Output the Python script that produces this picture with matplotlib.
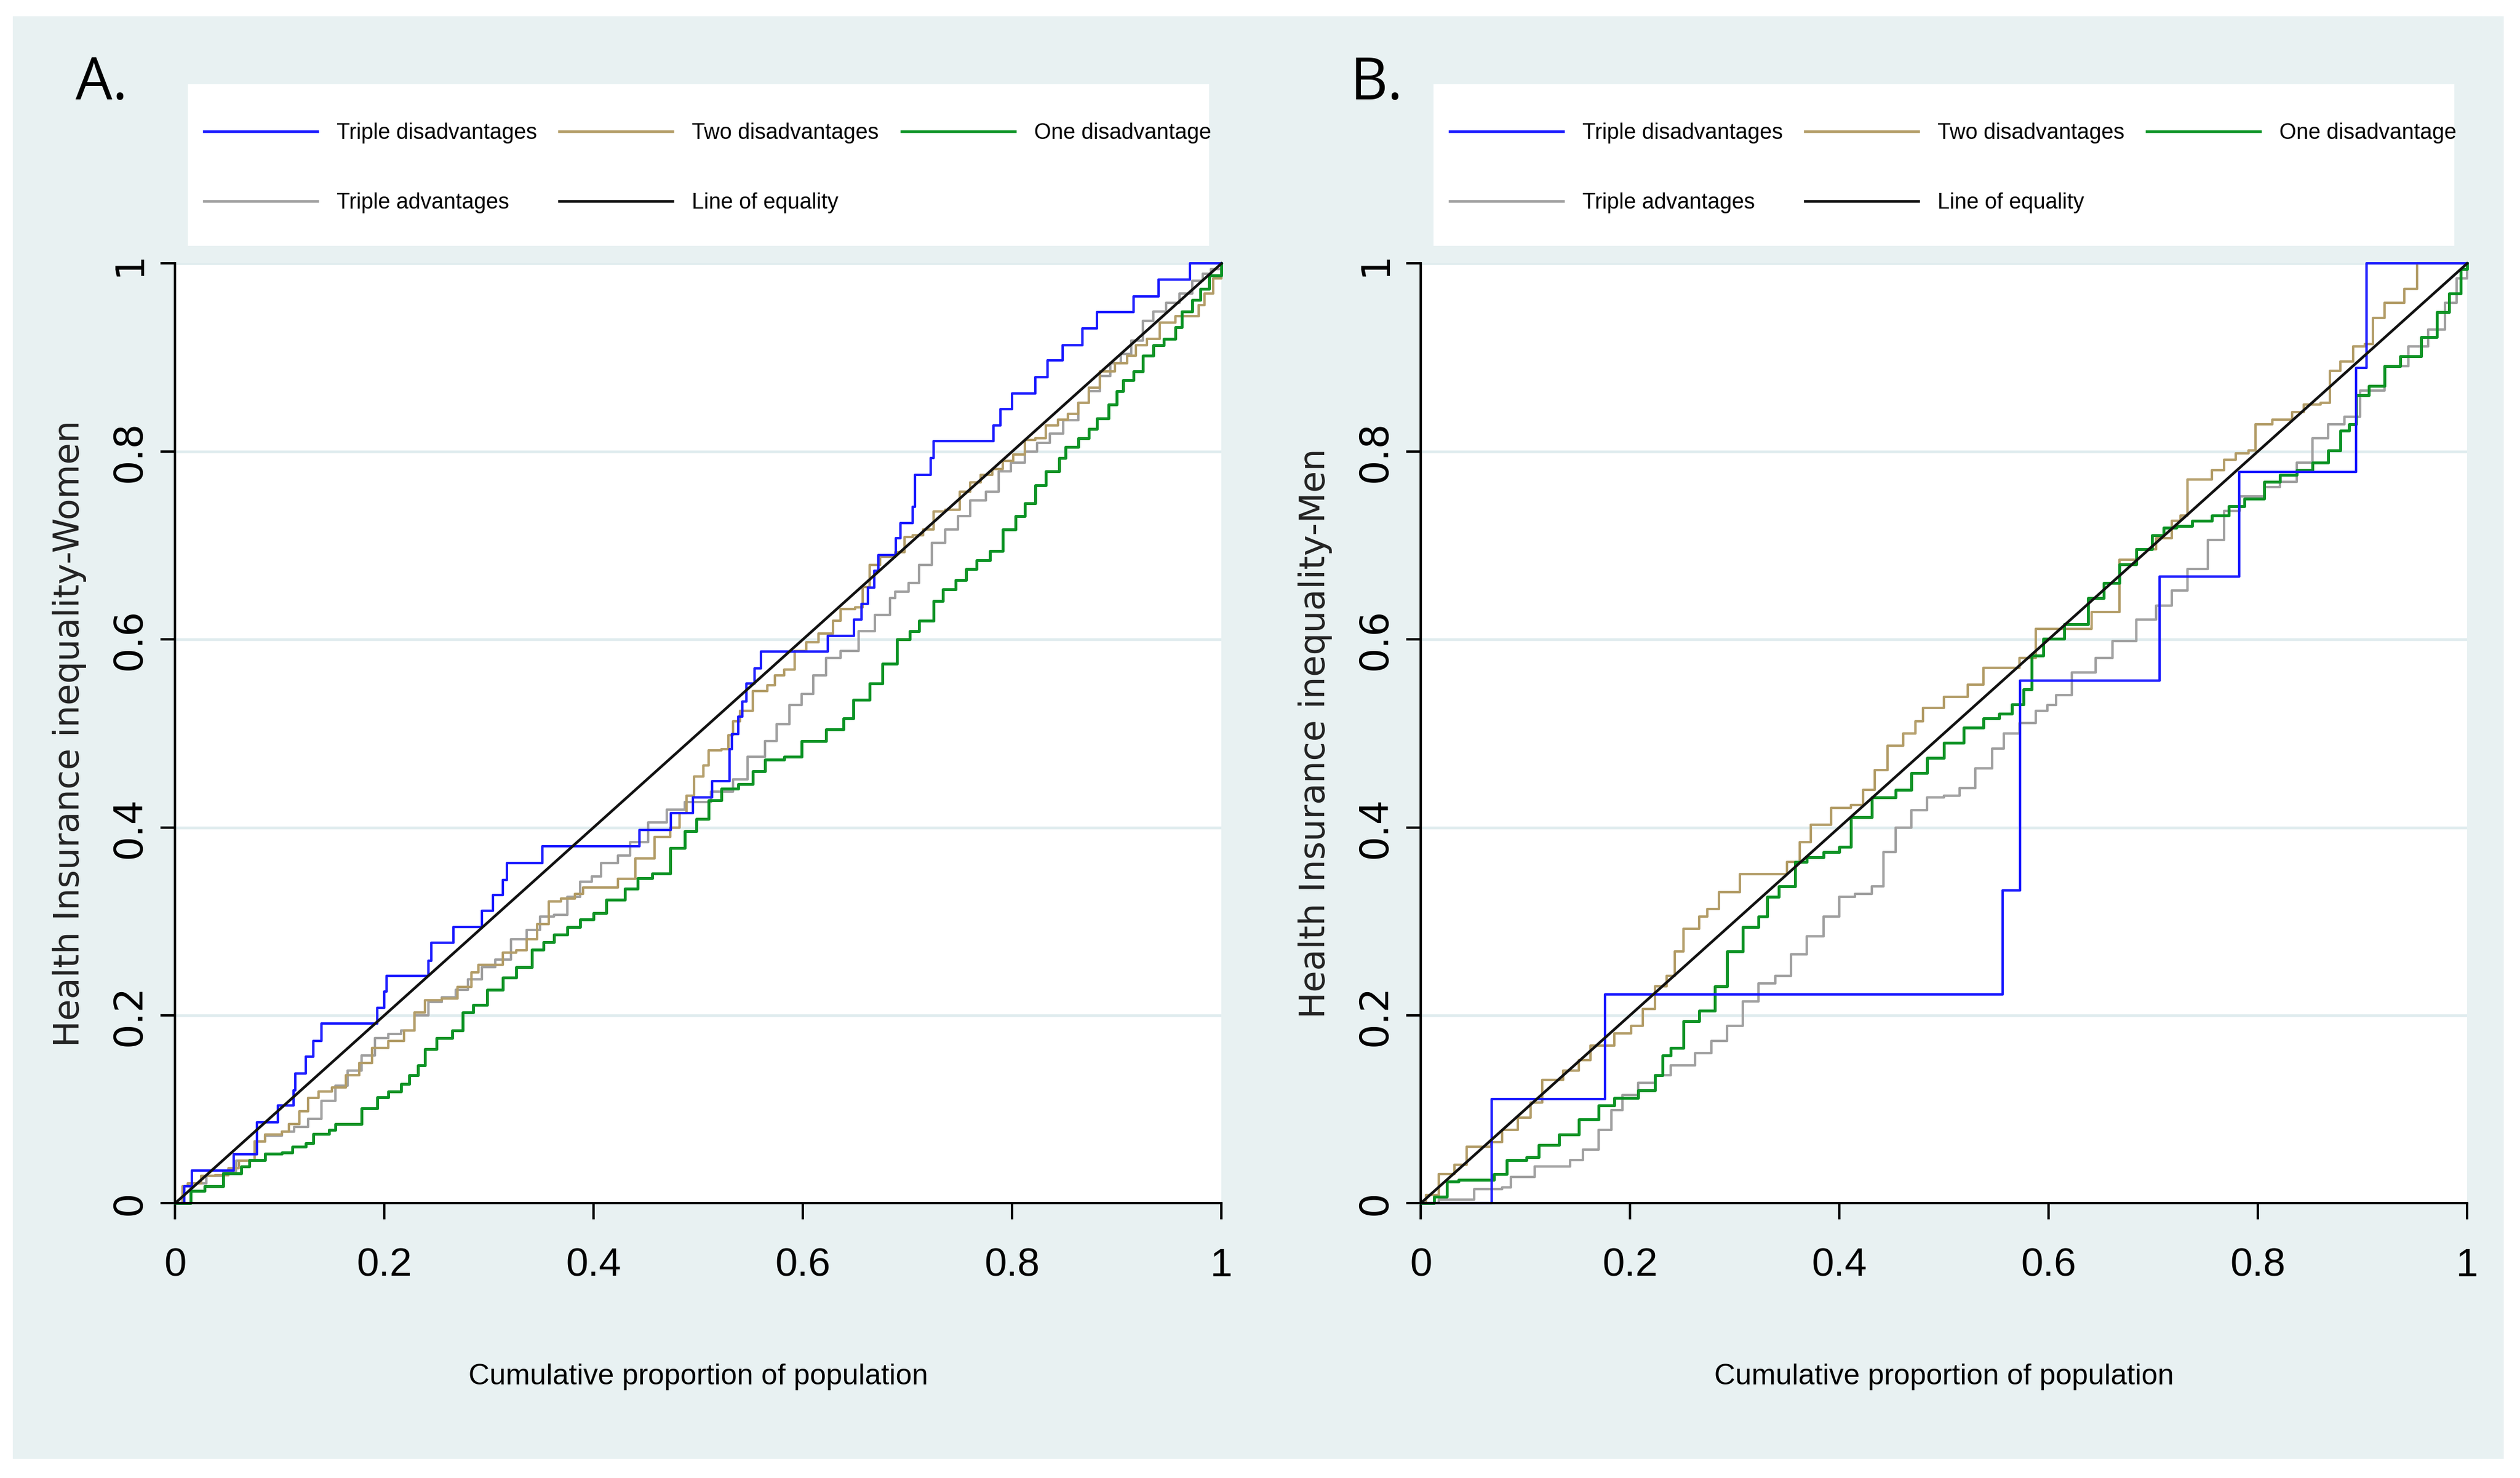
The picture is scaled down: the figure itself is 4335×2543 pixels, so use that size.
import matplotlib.pyplot as plt
from matplotlib.patches import Rectangle
from matplotlib.lines import Line2D

plt.rcParams['font.family'] = ['Liberation Sans', 'DejaVu Sans']

# --- Panel A (Women) ---
a_triple_dis_x = [0, 0.009, 0.016, 0.056, 0.078, 0.098, 0.113, 0.115, 0.125, 0.132, 0.140, 0.193,
                  0.200, 0.202, 0.242, 0.245, 0.266, 0.293, 0.304, 0.313, 0.317, 0.351, 0.444,
                  0.474, 0.495, 0.513, 0.530, 0.532, 0.538, 0.542, 0.546, 0.554, 0.560, 0.624,
                  0.649, 0.656, 0.662, 0.668, 0.672, 0.689, 0.693, 0.705, 0.707, 0.722, 0.725,
                  0.782, 0.789, 0.800, 0.822, 0.834, 0.848, 0.867, 0.881, 0.916, 0.940, 0.970,
                  1.0]
a_triple_dis_y = [0, 0.018, 0.035, 0.052, 0.086, 0.104, 0.120, 0.138, 0.156, 0.173, 0.191, 0.208,
                  0.225, 0.242, 0.258, 0.277, 0.294, 0.311, 0.328, 0.344, 0.362, 0.380, 0.397,
                  0.415, 0.432, 0.449, 0.483, 0.499, 0.518, 0.534, 0.553, 0.569, 0.587, 0.604,
                  0.621, 0.638, 0.655, 0.673, 0.690, 0.708, 0.724, 0.741, 0.775, 0.793, 0.811,
                  0.828, 0.845, 0.862, 0.879, 0.897, 0.913, 0.931, 0.948, 0.965, 0.983, 1.0,
                  1.0]

a_two_dis_x = [0, 0.007, 0.012, 0.025, 0.038, 0.051, 0.061, 0.076, 0.086, 0.102, 0.109, 0.119,
               0.127, 0.137, 0.150, 0.163, 0.176, 0.188, 0.204, 0.219, 0.229, 0.239, 0.255,
               0.270, 0.283, 0.290, 0.306, 0.313, 0.326, 0.336, 0.346, 0.357, 0.369, 0.382,
               0.390, 0.402, 0.423, 0.440, 0.458, 0.473, 0.482, 0.489, 0.496, 0.505, 0.510,
               0.522, 0.529, 0.533, 0.540, 0.552, 0.566, 0.573, 0.582, 0.592, 0.603, 0.615,
               0.629, 0.636, 0.650, 0.657, 0.664, 0.674, 0.688, 0.697, 0.705, 0.715, 0.725,
               0.736, 0.750, 0.760, 0.770, 0.781, 0.791, 0.801, 0.812, 0.822, 0.832, 0.844,
               0.853, 0.863, 0.873, 0.884, 0.898, 0.910, 0.918, 0.929, 0.941, 0.956, 0.970,
               0.978, 0.984, 0.992, 1.0]
a_two_dis_y = [0, 0.018, 0.021, 0.029, 0.030, 0.037, 0.045, 0.066, 0.073, 0.076, 0.084, 0.098,
               0.112, 0.119, 0.123, 0.136, 0.149, 0.165, 0.173, 0.184, 0.203, 0.216, 0.218,
               0.230, 0.246, 0.254, 0.254, 0.267, 0.269, 0.281, 0.297, 0.321, 0.324, 0.329,
               0.336, 0.336, 0.345, 0.367, 0.390, 0.400, 0.415, 0.434, 0.454, 0.466, 0.482,
               0.483, 0.498, 0.513, 0.524, 0.545, 0.551, 0.562, 0.568, 0.588, 0.597, 0.606,
               0.620, 0.632, 0.634, 0.656, 0.679, 0.688, 0.693, 0.709, 0.711, 0.717, 0.736,
               0.738, 0.757, 0.767, 0.775, 0.781, 0.790, 0.797, 0.812, 0.814, 0.828, 0.834,
               0.840, 0.852, 0.868, 0.885, 0.894, 0.902, 0.913, 0.920, 0.937, 0.944, 0.944,
               0.956, 0.968, 0.984, 1.0]

a_one_dis_x = [0, 0.015, 0.028, 0.046, 0.063, 0.071, 0.086, 0.102, 0.112, 0.125, 0.132, 0.147,
               0.153, 0.165, 0.178, 0.193, 0.204, 0.216, 0.224, 0.232, 0.239, 0.250, 0.265,
               0.275, 0.285, 0.298, 0.313, 0.326, 0.341, 0.352, 0.362, 0.375, 0.387, 0.400,
               0.412, 0.430, 0.442, 0.456, 0.473, 0.487, 0.498, 0.510, 0.522, 0.538, 0.552,
               0.564, 0.582, 0.599, 0.622, 0.639, 0.648, 0.664, 0.676, 0.690, 0.702, 0.711,
               0.725, 0.734, 0.746, 0.756, 0.766, 0.779, 0.791, 0.803, 0.812, 0.822, 0.832,
               0.845, 0.851, 0.863, 0.873, 0.881, 0.892, 0.900, 0.906, 0.916, 0.925, 0.935,
               0.945, 0.956, 0.962, 0.972, 0.980, 0.988, 1.0]
a_one_dis_y = [0, 0.013, 0.018, 0.032, 0.039, 0.046, 0.053, 0.054, 0.060, 0.064, 0.074, 0.078,
               0.084, 0.084, 0.101, 0.113, 0.119, 0.127, 0.136, 0.147, 0.164, 0.176, 0.184,
               0.203, 0.211, 0.227, 0.240, 0.251, 0.270, 0.278, 0.286, 0.294, 0.302, 0.309,
               0.323, 0.335, 0.346, 0.351, 0.378, 0.396, 0.409, 0.429, 0.441, 0.446, 0.460,
               0.472, 0.475, 0.492, 0.504, 0.516, 0.536, 0.553, 0.574, 0.600, 0.609, 0.620,
               0.641, 0.653, 0.663, 0.675, 0.684, 0.694, 0.717, 0.731, 0.745, 0.764, 0.779,
               0.793, 0.805, 0.814, 0.824, 0.835, 0.850, 0.864, 0.876, 0.885, 0.902, 0.913,
               0.920, 0.932, 0.949, 0.961, 0.973, 0.987, 1.0]

a_triple_adv_x = [0, 0.015, 0.030, 0.046, 0.058, 0.076, 0.086, 0.102, 0.114, 0.127, 0.140, 0.153,
                  0.165, 0.178, 0.191, 0.204, 0.216, 0.229, 0.242, 0.255, 0.268, 0.280, 0.293,
                  0.306, 0.321, 0.336, 0.349, 0.362, 0.375, 0.387, 0.398, 0.407, 0.423, 0.435,
                  0.452, 0.470, 0.487, 0.512, 0.533, 0.547, 0.564, 0.575, 0.587, 0.599, 0.610,
                  0.622, 0.636, 0.653, 0.669, 0.683, 0.688, 0.701, 0.711, 0.723, 0.736, 0.748,
                  0.760, 0.775, 0.787, 0.799, 0.812, 0.824, 0.836, 0.849, 0.863, 0.873, 0.884,
                  0.894, 0.904, 0.914, 0.925, 0.935, 0.947, 0.960, 0.972, 0.982, 0.990, 1.0]
a_triple_adv_y = [0, 0.021, 0.029, 0.034, 0.045, 0.066, 0.072, 0.076, 0.081, 0.090, 0.109, 0.125,
                  0.141, 0.157, 0.176, 0.180, 0.184, 0.200, 0.214, 0.219, 0.227, 0.238, 0.251,
                  0.259, 0.281, 0.291, 0.305, 0.307, 0.326, 0.342, 0.348, 0.362, 0.370, 0.384,
                  0.405, 0.419, 0.427, 0.438, 0.451, 0.475, 0.492, 0.510, 0.530, 0.542, 0.562,
                  0.580, 0.588, 0.609, 0.626, 0.644, 0.651, 0.660, 0.679, 0.703, 0.717, 0.731,
                  0.748, 0.757, 0.779, 0.788, 0.800, 0.809, 0.819, 0.833, 0.852, 0.864, 0.880,
                  0.894, 0.904, 0.918, 0.939, 0.949, 0.958, 0.968, 0.982, 0.989, 0.994, 1.0]

# --- Panel B (Men) ---
b_triple_dis_x = [0, 0.068, 0.176, 0.556, 0.573, 0.706, 0.782, 0.894, 0.904, 1.0]
b_triple_dis_y = [0, 0.111, 0.222, 0.333, 0.556, 0.667, 0.778, 0.889, 1.0, 1.0]

b_two_dis_x = [0, 0.005, 0.017, 0.032, 0.044, 0.067, 0.078, 0.093, 0.105, 0.116, 0.136, 0.151,
               0.162, 0.185, 0.201, 0.212, 0.224, 0.235, 0.243, 0.251, 0.266, 0.274, 0.285,
               0.305, 0.339, 0.350, 0.362, 0.373, 0.392, 0.411, 0.423, 0.434, 0.446, 0.461,
               0.473, 0.480, 0.500, 0.523, 0.538, 0.565, 0.572, 0.588, 0.634, 0.641, 0.661,
               0.668, 0.684, 0.703, 0.718, 0.726, 0.733, 0.749, 0.756, 0.768, 0.779, 0.791,
               0.798, 0.814, 0.833, 0.844, 0.860, 0.869, 0.879, 0.891, 0.902, 0.910, 0.921,
               0.933, 0.940, 0.948, 0.952, 1.0]
b_two_dis_y = [0, 0.009, 0.031, 0.041, 0.060, 0.065, 0.078, 0.091, 0.107, 0.131, 0.141, 0.152,
               0.168, 0.181, 0.189, 0.207, 0.231, 0.242, 0.268, 0.292, 0.305, 0.313, 0.331,
               0.350, 0.350, 0.363, 0.384, 0.403, 0.421, 0.424, 0.440, 0.461, 0.487, 0.500,
               0.513, 0.527, 0.539, 0.552, 0.570, 0.570, 0.580, 0.611, 0.611, 0.629, 0.629,
               0.685, 0.696, 0.708, 0.726, 0.732, 0.770, 0.770, 0.780, 0.791, 0.798, 0.801,
               0.829, 0.834, 0.842, 0.850, 0.852, 0.886, 0.896, 0.912, 0.914, 0.942, 0.958,
               0.958, 0.973, 0.973, 1.0, 1.0]

b_one_dis_x = [0, 0.013, 0.025, 0.036, 0.063, 0.070, 0.082, 0.101, 0.113, 0.132, 0.151, 0.170,
               0.185, 0.208, 0.224, 0.231, 0.239, 0.251, 0.266, 0.281, 0.293, 0.308, 0.323,
               0.331, 0.342, 0.358, 0.369, 0.385, 0.400, 0.411, 0.431, 0.454, 0.469, 0.484,
               0.500, 0.519, 0.538, 0.553, 0.565, 0.576, 0.584, 0.595, 0.615, 0.638, 0.653,
               0.668, 0.684, 0.699, 0.710, 0.722, 0.737, 0.756, 0.772, 0.787, 0.806, 0.821,
               0.837, 0.852, 0.867, 0.879, 0.887, 0.894, 0.906, 0.921, 0.936, 0.956, 0.971,
               0.983, 0.994, 1.0]
b_one_dis_y = [0, 0.007, 0.023, 0.025, 0.025, 0.031, 0.046, 0.049, 0.062, 0.073, 0.089, 0.104,
               0.112, 0.120, 0.136, 0.157, 0.165, 0.194, 0.205, 0.231, 0.268, 0.294, 0.305,
               0.326, 0.337, 0.363, 0.368, 0.374, 0.379, 0.411, 0.432, 0.440, 0.458, 0.474,
               0.490, 0.506, 0.516, 0.521, 0.531, 0.547, 0.583, 0.601, 0.616, 0.644, 0.660,
               0.680, 0.696, 0.711, 0.719, 0.721, 0.726, 0.732, 0.742, 0.750, 0.768, 0.775,
               0.780, 0.788, 0.801, 0.822, 0.829, 0.860, 0.870, 0.891, 0.901, 0.922, 0.948,
               0.968, 0.994, 1.0]

b_triple_adv_x = [0, 0.017, 0.044, 0.051, 0.078, 0.086, 0.109, 0.132, 0.143, 0.155, 0.170, 0.182,
                  0.193, 0.208, 0.224, 0.239, 0.262, 0.278, 0.293, 0.308, 0.323, 0.339, 0.354,
                  0.369, 0.385, 0.400, 0.415, 0.431, 0.442, 0.454, 0.469, 0.484, 0.500, 0.515,
                  0.530, 0.546, 0.557, 0.572, 0.588, 0.599, 0.607, 0.622, 0.645, 0.661, 0.684,
                  0.703, 0.718, 0.733, 0.752, 0.768, 0.783, 0.806, 0.821, 0.837, 0.852, 0.867,
                  0.883, 0.898, 0.921, 0.944, 0.963, 0.979, 0.990, 1.0]
b_triple_adv_y = [0, 0.004, 0.004, 0.015, 0.017, 0.028, 0.039, 0.039, 0.046, 0.057, 0.078, 0.099,
                  0.115, 0.128, 0.136, 0.147, 0.160, 0.173, 0.189, 0.215, 0.234, 0.242, 0.265,
                  0.284, 0.305, 0.326, 0.329, 0.337, 0.374, 0.400, 0.418, 0.432, 0.434, 0.442,
                  0.463, 0.484, 0.500, 0.511, 0.524, 0.530, 0.541, 0.565, 0.580, 0.598, 0.621,
                  0.636, 0.652, 0.675, 0.706, 0.737, 0.752, 0.762, 0.768, 0.788, 0.814, 0.829,
                  0.837, 0.865, 0.891, 0.912, 0.930, 0.958, 0.984, 1.0]

equality = [0, 1]

tick_vals = [0, 0.2, 0.4, 0.6, 0.8, 1]
tick_text = ['0', '0.2', '0.4', '0.6', '0.8', '1']

# --- Стилі ---
BG = '#e8f1f2'
GRID = '#dfecee'
C_BLUE = '#1a1aff'
C_GOLD = '#b39d68'
C_GREEN = '#0c9325'
C_GREY = '#a0a0a0'
C_BLACK = '#111111'

fig = plt.figure(figsize=(14.45, 8.4767), dpi=300)
fig.patches.append(Rectangle((0.0051, 0.013), 0.9885, 0.976, transform=fig.transFigure,
                             facecolor=BG, edgecolor='none', zorder=-10))


def draw_panel(rect, letter, letter_x, ylabel, tri_dis, two_dis, one_dis, tri_adv):
    ax = fig.add_axes(rect)
    ax.set_facecolor('white')

    for v in tick_vals[1:]:
        ax.axhline(v, color=GRID, lw=1.1, zorder=0.5)

    # Криві концентрації (ступінчасті)
    ax.step(tri_adv[0], tri_adv[1], where='post', color=C_GREY, lw=1.0, zorder=2, clip_on=False)
    ax.step(two_dis[0], two_dis[1], where='post', color=C_GOLD, lw=1.0, zorder=2.2, clip_on=False)
    ax.step(one_dis[0], one_dis[1], where='post', color=C_GREEN, lw=1.2, zorder=2.4, clip_on=False)
    ax.step(tri_dis[0], tri_dis[1], where='post', color=C_BLUE, lw=1.0, zorder=2.6, clip_on=False)
    ax.plot(equality, equality, color=C_BLACK, lw=1.1, zorder=3, clip_on=False)

    ax.set_xlim(0, 1)
    ax.set_ylim(0, 1)
    for s in ['top', 'right']:
        ax.spines[s].set_visible(False)
    for s in ['left', 'bottom']:
        ax.spines[s].set_color('black')
        ax.spines[s].set_linewidth(1.0)
        ax.spines[s].set_zorder(4)

    ax.set_xticks(tick_vals)
    ax.set_xticklabels(tick_text, fontsize=16.5)
    ax.set_yticks(tick_vals)
    ax.set_yticklabels(tick_text, fontsize=16, family='DejaVu Sans', rotation=90, va='center')
    ax.tick_params(axis='x', length=6.6, width=1.0, pad=11.5)
    ax.tick_params(axis='y', length=6, width=1.0, pad=5)

    ax.set_xlabel('Cumulative proportion of population', fontsize=12, va='center')
    ax.xaxis.set_label_coords(0.5, -0.1846)
    ax.set_ylabel(ylabel, fontsize=14.5, family='DejaVu Sans', color='#222222', va='center')
    ax.yaxis.set_label_coords(-0.101, 0.5)

    # Біла підкладка легенди
    ax.add_patch(Rectangle((0.012, 1.019), 0.976, 0.172, transform=ax.transAxes,
                           facecolor='white', edgecolor='none', clip_on=False, zorder=1))
    handles = [Line2D([], [], color=C_BLUE, lw=1.1), Line2D([], [], color=C_GREY, lw=1.1),
               Line2D([], [], color=C_GOLD, lw=1.1), Line2D([], [], color=C_BLACK, lw=1.1),
               Line2D([], [], color=C_GREEN, lw=1.1)]
    labels = ['Triple disadvantages', 'Triple advantages', 'Two disadvantages',
              'Line of equality', 'One disadvantage']
    leg = ax.legend(handles, labels, ncol=3, loc='upper left', bbox_to_anchor=(0.0276, 1.150),
                    frameon=False, fontsize=9, handlelength=5.2, handletextpad=0.88,
                    columnspacing=1.03, labelspacing=2.25, borderpad=0, borderaxespad=0)
    leg.set_zorder(6)

    fig.text(letter_x, 0.9326, letter, fontsize=24, family='Open Sans', va='baseline')
    return ax


draw_panel([0.0695, 0.1859, 0.4152, 0.6358], 'A.', 0.030, 'Health Insurance inequality-Women',
           (a_triple_dis_x, a_triple_dis_y), (a_two_dis_x, a_two_dis_y),
           (a_one_dis_x, a_one_dis_y), (a_triple_adv_x, a_triple_adv_y))
draw_panel([0.5638, 0.1859, 0.4152, 0.6358], 'B.', 0.5357, 'Health Insurance inequality-Men',
           (b_triple_dis_x, b_triple_dis_y), (b_two_dis_x, b_two_dis_y),
           (b_one_dis_x, b_one_dis_y), (b_triple_adv_x, b_triple_adv_y))

fig.savefig('out.png', dpi=300)
